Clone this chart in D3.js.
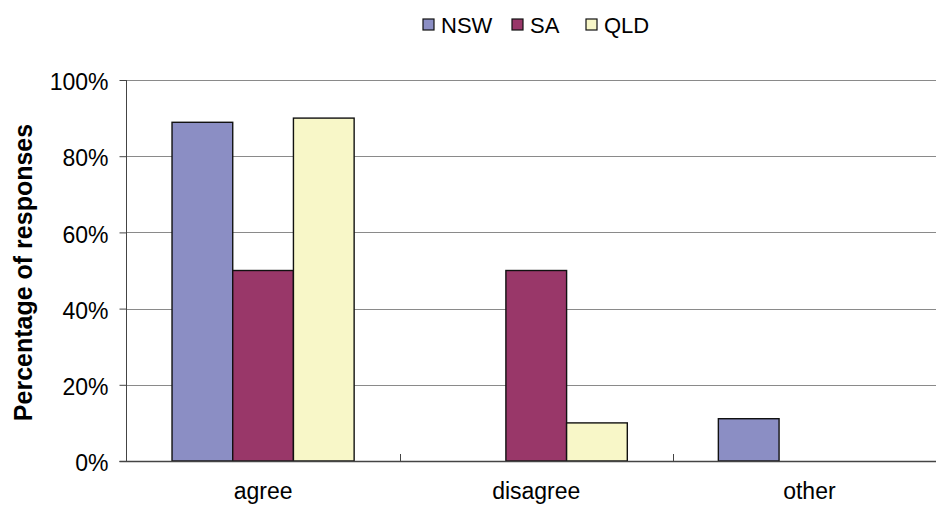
<!DOCTYPE html>
<html>
<head>
<meta charset="utf-8">
<script src="https://cdn.jsdelivr.net/npm/d3@7"></script>
<style>
  html, body { margin: 0; padding: 0; background: #fff; overflow: hidden; }
  svg { display: block; font-family: "Liberation Sans", Arial, sans-serif; }
</style>
</head>
<body>
<svg id="chart" width="936" height="511"></svg>
<script>
// Response shares per state, by answer category
const categories = ["agree", "disagree", "other"];
const seriesNames = ["NSW", "SA", "QLD"];
const nswValues = [0.889, 0, 0.111];
const saValues = [0.5, 0.5, 0];
const qldValues = [0.9, 0.1, 0];
const yTicks = [0, 0.2, 0.4, 0.6, 0.8, 1.0];
const seriesColors = ["#8b8ec4", "#993769", "#f8f7c8"];

const series = [nswValues, saValues, qldValues];

const svg = d3.select("#chart");
const plotLeft = 126.5, plotRight = 946, plotTop = 80, plotBottom = 461;
const fontSize = 23;

const x = d3.scaleBand().domain(categories).range([plotLeft, plotRight]).padding(0);
const inner = d3.scaleBand().domain(seriesNames)
  .range([0, x.bandwidth()]).paddingInner(0).paddingOuter(0.75);
const y = d3.scaleLinear().domain([0, 1]).range([plotBottom, plotTop]);

// horizontal gridlines
svg.append("g").selectAll("line").data(yTicks.filter(d => d > 0)).join("line")
  .attr("x1", plotLeft).attr("x2", plotRight)
  .attr("y1", d => Math.round(y(d)) + 0.5).attr("y2", d => Math.round(y(d)) + 0.5)
  .attr("stroke", "#8a8a8a").attr("stroke-width", 1);

// bars
series.forEach((vals, si) => {
  svg.append("g").selectAll("rect").data(categories.map((c, i) => ({ c, v: vals[i] })))
    .join("rect")
    .filter(d => d.v > 0)
    .attr("x", d => x(d.c) + inner(seriesNames[si]))
    .attr("y", d => y(d.v))
    .attr("width", inner.bandwidth())
    .attr("height", d => plotBottom - y(d.v))
    .attr("fill", seriesColors[si])
    .attr("stroke", "#111").attr("stroke-width", 1.4);
});

// y axis
const yAxis = d3.axisLeft(y).tickValues(yTicks).tickFormat(d3.format(".0%"))
  .tickSize(7).tickPadding(11);
const gy = svg.append("g").attr("transform", `translate(${plotLeft},0)`).call(yAxis);
gy.select(".domain").attr("stroke", "#444").attr("d", `M0,${plotTop}V${plotBottom}`);
gy.selectAll(".tick line").attr("stroke", "#444");
gy.selectAll(".tick text").attr("font-size", fontSize).attr("fill", "#000")
  .attr("dy", "0.42em")
  .attr("font-family", "Liberation Sans, Arial, sans-serif");

// x axis
const gx = svg.append("g").attr("transform", `translate(0,${plotBottom})`);
gx.append("line").attr("x1", plotLeft - 7).attr("x2", plotRight)
  .attr("y1", 0.5).attr("y2", 0.5).attr("stroke", "#444").attr("stroke-width", 1.5);
gx.selectAll("line.sep").data(categories.slice(1)).join("line").attr("class", "sep")
  .attr("x1", d => Math.round(x(d)) + 0.5).attr("x2", d => Math.round(x(d)) + 0.5)
  .attr("y1", -7).attr("y2", 0).attr("stroke", "#444");
gx.selectAll("text").data(categories).join("text")
  .attr("x", d => x(d) + x.bandwidth() / 2).attr("y", 38)
  .attr("text-anchor", "middle").attr("font-size", fontSize).attr("fill", "#000")
  .text(d => d);

// y axis title
svg.append("text")
  .attr("transform", `translate(32,${(plotTop + plotBottom) / 2 + 2}) rotate(-90)`)
  .attr("text-anchor", "middle").attr("font-size", 25).attr("font-weight", "bold")
  .text("Percentage of responses");

// legend
const legendItems = [
  { name: "NSW", x: 423 },
  { name: "SA", x: 512 },
  { name: "QLD", x: 586 }
];
const lg = svg.append("g");
legendItems.forEach((it, i) => {
  lg.append("rect").attr("x", it.x).attr("y", 19).attr("width", 11).attr("height", 11)
    .attr("fill", seriesColors[i]).attr("stroke", "#111").attr("stroke-width", 1.2);
  lg.append("text").attr("x", it.x + 18).attr("y", 32.5)
    .attr("font-size", 22).attr("fill", "#000").text(it.name);
});
</script>
</body>
</html>
